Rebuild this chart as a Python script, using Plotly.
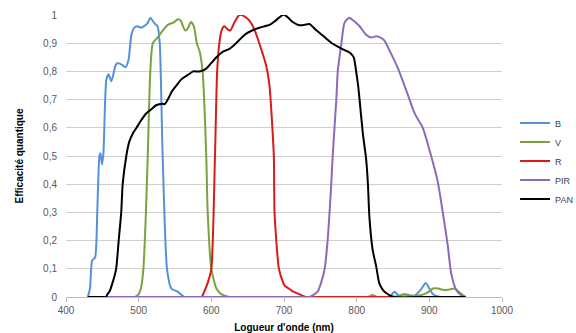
import plotly.graph_objects as go

# Wavelength (nm) / quantum efficiency pairs
B_x = [430, 433, 436, 440, 443, 446, 447.5, 449.5, 451.5, 455.5, 458.5, 462.5, 468, 471, 476, 482, 486, 490, 494, 498, 503, 507, 512, 516, 519, 522, 526, 529, 533, 539, 545, 553, 558, 563, 570, 600, 700, 800, 845, 852, 858, 865, 870, 880, 888, 895, 900, 905, 915, 930, 950]
B_y = [0, 0.03, 0.13, 0.14, 0.3, 0.5, 0.51, 0.47, 0.51, 0.77, 0.79, 0.765, 0.82, 0.83, 0.825, 0.815, 0.84, 0.93, 0.955, 0.96, 0.955, 0.96, 0.97, 0.99, 0.98, 0.97, 0.96, 0.9, 0.5, 0.1, 0.03, 0.02, 0.01, 0, 0, 0, 0, 0, 0, 0.019, 0.005, 0.01, 0.005, 0.005, 0.025, 0.05, 0.03, 0.01, 0, 0, 0]

V_x = [430, 495, 500, 503, 506.5, 510, 512.5, 516, 519.5, 526, 533, 540, 549, 554, 558, 561, 564, 567, 572, 576, 580, 584, 588, 593, 595, 600, 607, 613.5, 625, 700, 815, 822, 828, 850, 860, 867, 875, 885, 893, 900, 905, 912, 920, 928, 935, 942, 950]
V_y = [0, 0, 0.01, 0.03, 0.1, 0.3, 0.5, 0.8, 0.9, 0.92, 0.945, 0.965, 0.975, 0.985, 0.98, 0.96, 0.945, 0.95, 0.975, 0.96, 0.9, 0.87, 0.8, 0.5, 0.3, 0.1, 0.03, 0.01, 0, 0, 0, 0.007, 0, 0, 0.005, 0.01, 0.005, 0.005, 0.01, 0.02, 0.03, 0.03, 0.025, 0.027, 0.03, 0.015, 0]

R_x = [587, 590.5, 595, 600, 605, 608, 611, 614, 618, 622, 626, 632, 638.5, 645.5, 652.5, 659, 666, 675.5, 680, 686, 687, 693, 699, 701, 706.5, 712, 721, 730.5, 760, 800, 850]
R_y = [0, 0.02, 0.05, 0.1, 0.5, 0.8, 0.9, 0.945, 0.96, 0.95, 0.945, 0.975, 1.0, 0.995, 0.98, 0.95, 0.9, 0.82, 0.75, 0.5, 0.3, 0.1, 0.05, 0.04, 0.03, 0.02, 0.01, 0, 0, 0, 0]

PIR_x = [430, 500, 600, 700, 735, 739, 746.5, 751, 756, 760, 765, 767, 772, 774, 779, 783, 787, 790, 793, 798, 804, 813, 820, 827, 833, 838, 846, 857, 870, 880, 891, 902.5, 911.5, 918.5, 925.5, 930, 937, 943, 948, 950]
PIR_y = [0, 0, 0, 0, 0, 0.005, 0.02, 0.05, 0.1, 0.2, 0.4, 0.5, 0.7, 0.8, 0.9, 0.97, 0.985, 0.99, 0.985, 0.975, 0.96, 0.93, 0.92, 0.925, 0.92, 0.91, 0.87, 0.81, 0.72, 0.65, 0.6, 0.5, 0.41, 0.3, 0.18, 0.085, 0.025, 0.008, 0, 0]

PAN_x = [430, 450, 455, 457, 460, 464, 469, 472.5, 476, 478, 483, 487, 492, 497, 503, 510, 517, 524, 533, 536, 540, 546, 552, 558, 563, 569, 575, 584, 593, 600, 607, 616, 625, 634, 646, 656, 666, 680, 686, 693, 698, 701, 706, 712, 721, 728, 735, 744, 751, 758, 766, 774, 781, 788, 792.5, 796, 799, 802, 804, 808.5, 813, 815.5, 817.5, 822, 827, 831, 836, 841, 846, 852, 900, 950]
PAN_y = [0, 0, 0, 0.01, 0.02, 0.05, 0.1, 0.2, 0.3, 0.4, 0.5, 0.55, 0.58, 0.6, 0.625, 0.65, 0.665, 0.68, 0.685, 0.684, 0.7, 0.73, 0.75, 0.77, 0.78, 0.79, 0.8, 0.8, 0.81, 0.83, 0.85, 0.87, 0.88, 0.9, 0.93, 0.945, 0.955, 0.965, 0.975, 0.99, 1.0, 1.0, 0.99, 0.975, 0.964, 0.965, 0.968, 0.947, 0.932, 0.917, 0.9, 0.888, 0.878, 0.87, 0.862, 0.85, 0.805, 0.75, 0.7, 0.58, 0.49, 0.4, 0.285, 0.167, 0.107, 0.05, 0.025, 0.013, 0.005, 0, 0, 0]

series = [
    ("B", B_x, B_y, "#5591DB"),
    ("V", V_x, V_y, "#7BA23F"),
    ("R", R_x, R_y, "#DA1A1A"),
    ("PIR", PIR_x, PIR_y, "#8A6BB8"),
    ("PAN", PAN_x, PAN_y, "#000000"),
]

x_ticks = [400, 500, 600, 700, 800, 900, 1000]
y_ticks = [0, 0.1, 0.2, 0.3, 0.4, 0.5, 0.6, 0.7, 0.8, 0.9, 1]
y_labels = ["0", "0,1", "0,2", "0,3", "0,4", "0,5", "0,6", "0,7", "0,8", "0,9", "1"]

fig = go.Figure()
for name, xs, ys, col in series:
    fig.add_trace(go.Scatter(x=xs, y=ys, mode="lines", name=name,
                             line=dict(color=col, width=2, shape="spline", smoothing=0.6)))

font = "Liberation Sans, Arial, sans-serif"
fig.update_layout(
    width=576, height=333,
    margin=dict(l=66, r=74, t=15, b=36, autoexpand=False),
    paper_bgcolor="white", plot_bgcolor="white",
    font=dict(family=font, size=10, color="#595959"),
    showlegend=True,
    legend=dict(x=1.03, xanchor="left", y=0.482, yanchor="middle",
                font=dict(size=9, color="#404040"), bgcolor="rgba(0,0,0,0)",
                tracegroupgap=0),
    xaxis=dict(range=[400, 1000], tickvals=x_ticks, showgrid=False, zeroline=False,
               showline=True, linecolor="#BFBFBF", linewidth=1,
               ticks="outside", ticklen=4, tickcolor="#BFBFBF",
               title=dict(text="<b>Logueur d'onde (nm)</b>", font=dict(size=10, color="#000000"), standoff=10)),
    yaxis=dict(range=[0, 1], tickvals=y_ticks, ticktext=y_labels, showgrid=True,
               gridcolor="#D0D0D0", gridwidth=1, zeroline=False, showline=False,
               ticklabelstandoff=8,
               title=dict(text="<b>Efficacité quantique</b>", font=dict(size=10, color="#000000"), standoff=17)),
)

fig.write_html("out.html", config={"displayModeBar": False},
               post_script="document.body.style.margin='0';document.body.style.overflow='hidden';")
